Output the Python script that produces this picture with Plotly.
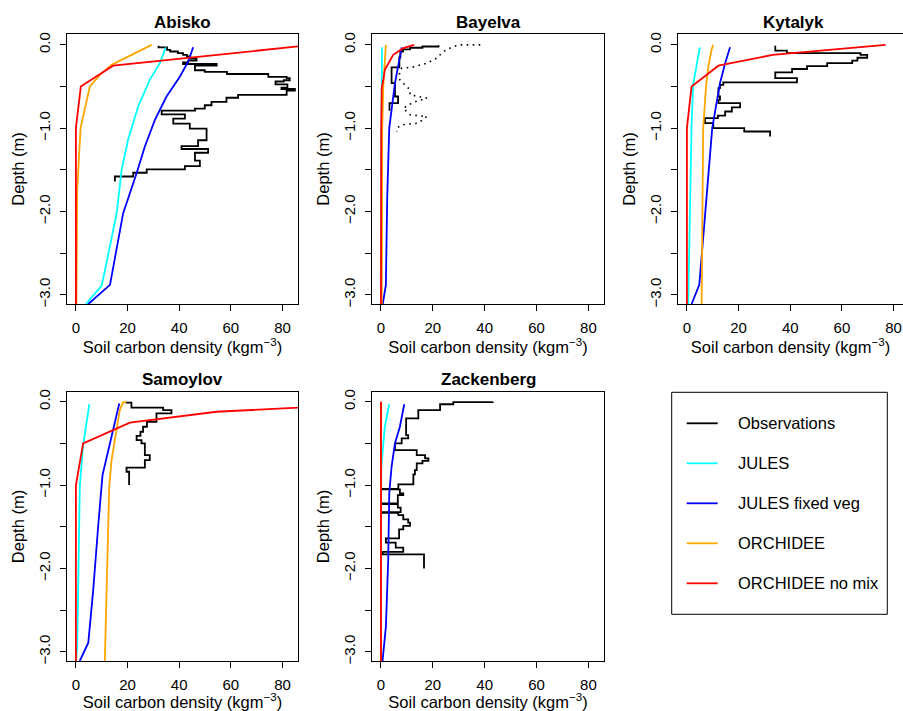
import plotly.graph_objects as go

W, H = 903, 711

sites = ["Abisko", "Bayelva", "Kytalyk", "Samoylov", "Zackenberg"]
series_names = ["Observations", "JULES", "JULES fixed veg", "ORCHIDEE", "ORCHIDEE no mix"]
series_colors = ["#000000", "#00FFFF", "#0000FF", "#FFA500", "#FF0000"]
x_ticks = [0, 20, 40, 60, 80]
x_tick_labels = ["0", "20", "40", "60", "80"]
y_ticks = [0.0, -1.0, -2.0, -3.0]
y_tick_labels = ["0.0", "\u22121.0", "\u22122.0", "\u22123.0"]
y_minor_step = 0.5
x_title = "Soil carbon density (kgm<sup>\u22123</sup>)"
y_title = "Depth (m)"

# ---------------- Observations (layer tops, layer values, profile bottom) -------------
abisko_obs_top = [-0.01, -0.03, -0.06, -0.08, -0.10, -0.12, -0.14, -0.165, -0.19, -0.21,
                  -0.23, -0.25, -0.305, -0.325, -0.35, -0.385, -0.40, -0.425, -0.44, -0.475,
                  -0.515, -0.53, -0.55, -0.60, -0.635, -0.685, -0.725, -0.765, -0.79, -0.835,
                  -0.885, -0.945, -1.005, -1.145, -1.215, -1.25, -1.295, -1.39, -1.455, -1.495,
                  -1.535, -1.58]
abisko_obs_soc = [32.0, 35.3, 36.5, 39.5, 41.5, 43.0, 44.3, 46.7, 43.5, 41.5,
                  54.5, 46.1, 49.9, 58.5, 74.5, 81.6, 82.8, 80.5, 77.3, 81.9,
                  79.6, 84.8, 81.6, 62.8, 58.3, 52.5, 49.9, 46.1, 33.2, 42.2,
                  37.7, 44.1, 50.6, 47.3, 40.9, 51.2, 46.1, 48.0, 42.2, 27.4,
                  22.2, 15.1]
abisko_obs_bottom = -1.64

bayelva_obs_top = [-0.005, -0.02, -0.035, -0.055, -0.08, -0.15, -0.27, -0.46, -0.62, -0.70]
bayelva_obs_soc = [22.2, 16.0, 11.2, 8.5, 7.5, 7.1, 4.1, 5.4, 6.6, 3.3]
bayelva_obs_bottom = -0.79

# second Bayelva profile (dotted)
bayelva_obs2_soc = [38.3, 30.5, 27.9, 24.7, 22.8, 22.1, 17.7, 11.9, 8.0, 7.1, 7.3, 11.2, 11.2,
                    17.7, 12.5, 8.6, 11.2, 17.7, 14.4, 8.0, 6.1, 6.1]
bayelva_obs2_depth = [0.0, 0.0, -0.02, -0.07, -0.12, -0.15, -0.22, -0.27, -0.28, -0.32, -0.42,
                      -0.54, -0.60, -0.64, -0.69, -0.76, -0.84, -0.86, -0.94, -0.96, -1.0, -1.04]

kytalyk_obs_top = [-0.01, -0.07, -0.10, -0.12, -0.155, -0.19, -0.22, -0.255, -0.29, -0.33,
                   -0.40, -0.45, -0.48, -0.52, -0.62, -0.66, -0.70, -0.75, -0.80, -0.85,
                   -0.88, -0.94, -1.00, -1.04]
kytalyk_obs_soc = [34.2, 38.7, 67.2, 69.8, 66.0, 64.0, 54.3, 46.5, 40.7, 34.2,
                   42.6, 14.1, 12.8, 12.2, 12.8, 12.2, 20.6, 17.4, 14.8, 12.0,
                   7.0, 10.2, 22.2, 32.2]
kytalyk_obs_bottom = -1.10

samoylov_obs_top = [0.0, -0.01, -0.07, -0.10, -0.14, -0.24, -0.30, -0.36, -0.41, -0.46,
                    -0.50, -0.64, -0.70, -0.79, -0.84]
samoylov_obs_soc = [19.6, 21.5, 33.8, 37.0, 31.2, 27.5, 26.0, 25.0, 23.5, 25.4,
                    26.7, 28.6, 26.7, 19.6, 20.6]
samoylov_obs_bottom = -1.00

zackenberg_obs_top = [0.0, -0.005, -0.03, -0.10, -0.20, -0.40, -0.44, -0.50, -0.58, -0.64,
                      -0.68, -0.71, -0.74, -0.82, -0.87, -0.99, -1.045, -1.052, -1.10, -1.12,
                      -1.22, -1.227, -1.27, -1.325, -1.332, -1.36, -1.41, -1.45, -1.49, -1.53,
                      -1.64, -1.69, -1.75, -1.80, -1.83]
zackenberg_obs_soc = [43.1, 27.9, 22.8, 14.4, 9.7, 10.5, 8.0, 5.4, 13.8, 17.0,
                      18.3, 16.0, 13.8, 13.1, 12.5, 6.7, 0.3, 7.3, 8.6, 6.5,
                      0.3, 6.5, 7.6, 0.3, 6.7, 8.6, 10.5, 11.2, 8.6, 7.0,
                      1.9, 5.7, 8.6, 0.6, 16.6]
zackenberg_obs_bottom = -2.00

# ---------------- JULES ----------------
abisko_jules_soc = [34.8, 32.5, 28.6, 24.1, 20.2, 17.7, 15.8, 10.0, 3.9]
abisko_jules_depth = [-0.03, -0.22, -0.42, -0.74, -1.14, -1.5, -2.02, -2.89, -3.11]
bayelva_jules_soc = [0.4, 0.2, 0.1]
bayelva_jules_depth = [-0.03, -1.0, -3.11]
kytalyk_jules_soc = [5.0, 3.8, 2.4, 1.8, 0.9, 0.5]
kytalyk_jules_depth = [-0.03, -0.26, -0.48, -0.98, -2.87, -3.11]
samoylov_jules_soc = [5.2, 2.8, 1.5, 0.5, 0.0]
samoylov_jules_depth = [-0.03, -0.52, -1.02, -2.94, -3.11]
zackenberg_jules_soc = [3.2, 1.5, 0.7, 0.1, 0.0]
zackenberg_jules_depth = [-0.03, -0.3, -0.58, -0.82, -3.11]

# ---------------- JULES fixed veg ----------------
abisko_julesfv_soc = [45.4, 43.5, 40.3, 35.1, 30.6, 26.7, 23.5, 18.3, 13.2, 4.8]
abisko_julesfv_depth = [-0.03, -0.2, -0.38, -0.62, -0.9, -1.22, -1.54, -2.02, -2.88, -3.11]
bayelva_julesfv_soc = [8.0, 5.4, 3.2, 2.4, 1.9, 0.7]
bayelva_julesfv_depth = [-0.03, -0.46, -1.0, -1.86, -2.88, -3.11]
kytalyk_julesfv_soc = [16.7, 14.8, 12.8, 10.9, 9.8, 4.8, 1.8]
kytalyk_julesfv_depth = [-0.03, -0.22, -0.46, -0.78, -1.0, -2.88, -3.11]
samoylov_julesfv_soc = [16.8, 14.4, 12.1, 10.3, 8.6, 6.7, 4.8, 1.5]
samoylov_julesfv_depth = [-0.02, -0.34, -0.62, -0.88, -1.5, -2.26, -2.89, -3.11]
zackenberg_julesfv_soc = [9.0, 7.3, 5.4, 4.1, 3.2, 2.8, 1.9, 1.2, 0.6]
zackenberg_julesfv_depth = [-0.03, -0.3, -0.5, -0.78, -1.1, -1.9, -2.7, -2.98, -3.11]

# ---------------- ORCHIDEE ----------------
abisko_orc_soc = [29.3, 24.8, 19.6, 13.8, 9.3, 5.4, 1.8, 0.5, 0.2]
abisko_orc_depth = [0.0, -0.07, -0.15, -0.24, -0.36, -0.5, -1.0, -1.74, -3.11]
bayelva_orc_soc = [1.9, 1.5, 0.9, 0.5, 0.3]
bayelva_orc_depth = [0.0, -0.25, -0.5, -1.0, -3.11]
kytalyk_orc_soc = [10.2, 9.6, 8.3, 7.4, 6.3, 5.7]
kytalyk_orc_depth = [0.0, -0.05, -0.26, -0.5, -1.0, -3.11]
samoylov_orc_soc = [19.5, 18.2, 17.0, 15.1, 13.8, 12.9, 11.2]
samoylov_orc_depth = [0.0, -0.01, -0.1, -0.44, -0.7, -1.02, -3.11]
zackenberg_orc_soc = [0.1, 0.1, 0.0]
zackenberg_orc_depth = [0.0, -1.0, -3.11]

# ---------------- ORCHIDEE no mix ----------------
abisko_orcnm_soc = [92.0, 14.4, 1.9, 0.0, 0.0]
abisko_orcnm_depth = [0.0, -0.25, -0.5, -1.0, -3.11]
bayelva_orcnm_soc = [12.8, 8.6, 4.7, 2.8, 1.5, 0.9, 0.3, 0.1, 0.0]
bayelva_orcnm_depth = [0.0, -0.04, -0.12, -0.22, -0.3, -0.42, -0.52, -1.0, -3.11]
kytalyk_orcnm_soc = [76.9, 33.2, 12.2, 1.8, 0.0, 0.0]
kytalyk_orcnm_depth = [0.0, -0.12, -0.25, -0.5, -1.0, -3.11]
samoylov_orcnm_soc = [130.0, 54.5, 20.9, 2.8, 0.0, 0.0]
samoylov_orcnm_depth = [0.0, -0.12, -0.25, -0.5, -1.0, -3.11]
zackenberg_orcnm_soc = [0.0, 0.0]
zackenberg_orcnm_depth = [0.0, -3.11]

obs_layers = {
    "Abisko": (abisko_obs_top, abisko_obs_soc, abisko_obs_bottom),
    "Bayelva": (bayelva_obs_top, bayelva_obs_soc, bayelva_obs_bottom),
    "Kytalyk": (kytalyk_obs_top, kytalyk_obs_soc, kytalyk_obs_bottom),
    "Samoylov": (samoylov_obs_top, samoylov_obs_soc, samoylov_obs_bottom),
    "Zackenberg": (zackenberg_obs_top, zackenberg_obs_soc, zackenberg_obs_bottom),
}
model_series = {
    "Abisko": [(abisko_jules_soc, abisko_jules_depth), (abisko_julesfv_soc, abisko_julesfv_depth),
               (abisko_orc_soc, abisko_orc_depth), (abisko_orcnm_soc, abisko_orcnm_depth)],
    "Bayelva": [(bayelva_jules_soc, bayelva_jules_depth), (bayelva_julesfv_soc, bayelva_julesfv_depth),
                (bayelva_orc_soc, bayelva_orc_depth), (bayelva_orcnm_soc, bayelva_orcnm_depth)],
    "Kytalyk": [(kytalyk_jules_soc, kytalyk_jules_depth), (kytalyk_julesfv_soc, kytalyk_julesfv_depth),
                (kytalyk_orc_soc, kytalyk_orc_depth), (kytalyk_orcnm_soc, kytalyk_orcnm_depth)],
    "Samoylov": [(samoylov_jules_soc, samoylov_jules_depth), (samoylov_julesfv_soc, samoylov_julesfv_depth),
                 (samoylov_orc_soc, samoylov_orc_depth), (samoylov_orcnm_soc, samoylov_orcnm_depth)],
    "Zackenberg": [(zackenberg_jules_soc, zackenberg_jules_depth), (zackenberg_julesfv_soc, zackenberg_julesfv_depth),
                   (zackenberg_orc_soc, zackenberg_orc_depth), (zackenberg_orcnm_soc, zackenberg_orcnm_depth)],
}

# ---------------- layout geometry (pixels) ----------------
boxes = {
    "Abisko": (67, 298, 34, 304),
    "Bayelva": (372, 604, 34, 304),
    "Kytalyk": (678, 903, 34, 304),
    "Samoylov": (67, 298, 392, 661),
    "Zackenberg": (372, 604, 392, 661),
}
x_ranges = {"Abisko": [-3.45, 86.0], "Bayelva": [-3.45, 86.0], "Kytalyk": [-3.45, 83.65],
            "Samoylov": [-3.45, 86.0], "Zackenberg": [-3.45, 86.0]}
y_range_top = [-3.11, 0.13]
y_range_bottom = [-3.11, 0.117]

FONT = "Liberation Sans, Arial, Helvetica, sans-serif"
LW = 1.8


def px(x):
    return x / W


def py(y):
    return 1 - y / H


fig = go.Figure()
layout = dict(width=W, height=H, margin=dict(l=0, r=0, t=0, b=0),
              paper_bgcolor="white", plot_bgcolor="white", showlegend=False,
              font=dict(family=FONT, color="black"))
annotations = []
shapes = []

for i, site in enumerate(sites, start=1):
    xa = "x" if i == 1 else f"x{i}"
    ya = "y" if i == 1 else f"y{i}"
    x0, x1, y0, y1 = boxes[site]
    top_row = i <= 3

    # observations
    tops, vals, bottom = obs_layers[site]
    fig.add_trace(go.Scatter(x=vals + [vals[-1]], y=tops + [bottom], mode="lines",
                             line=dict(color=series_colors[0], width=LW, shape="vh"),
                             name=series_names[0], xaxis=xa, yaxis=ya))
    if site == "Bayelva":
        fig.add_trace(go.Scatter(x=bayelva_obs2_soc, y=bayelva_obs2_depth, mode="lines",
                                 line=dict(color="black", width=1.6, dash="1.6px,4.4px"),
                                 name=series_names[0], xaxis=xa, yaxis=ya))
    for k, (soc, dep) in enumerate(model_series[site], start=1):
        fig.add_trace(go.Scatter(x=soc, y=dep, mode="lines",
                                 line=dict(color=series_colors[k], width=LW),
                                 name=series_names[k], xaxis=xa, yaxis=ya))

    axis_common = dict(showline=True, linecolor="black", linewidth=1, ticks="outside",
                       ticklen=6, tickwidth=1, tickcolor="black", showgrid=False,
                       zeroline=False, tickfont=dict(family=FONT, size=15, color="black"),
                       fixedrange=True, automargin=False)
    layout["xaxis" if i == 1 else f"xaxis{i}"] = dict(
        axis_common, domain=[px(x0), px(x1)], range=x_ranges[site], anchor=ya,
        tickmode="array", tickvals=x_ticks, ticktext=x_tick_labels, mirror=True,
        ticklabelstandoff=4,
        title=dict(text=x_title, standoff=6, font=dict(family=FONT, size=16.5, color="black")))
    layout["yaxis" if i == 1 else f"yaxis{i}"] = dict(
        axis_common, domain=[py(y1), py(y0)],
        range=y_range_top if top_row else y_range_bottom, anchor=xa,
        tickmode="array", tickvals=y_ticks, ticktext=y_tick_labels, tickangle=-90,
        minor=dict(ticks="outside", ticklen=6, tickwidth=1, tickcolor="black",
                   tick0=0, dtick=y_minor_step, showgrid=False),
        mirror=(site != "Kytalyk"), ticklabelstandoff=4,
        title=dict(text=y_title, standoff=7, font=dict(family=FONT, size=16.5, color="black")))

    cx = (x0 + x1) / 2 if site != "Kytalyk" else 793.5
    annotations.append(dict(text=f"<b>{site}</b>", x=px(cx), y=py(y0 - 12), xref="paper", yref="paper",
                            showarrow=False, xanchor="center", yanchor="middle",
                            font=dict(family=FONT, size=17, color="black")))

# legend panel
lx0, lx1, ly0, ly1 = 671.7, 887.3, 392.3, 614.3
shapes.append(dict(type="rect", xref="paper", yref="paper", x0=px(lx0), x1=px(lx1),
                   y0=py(ly1), y1=py(ly0), line=dict(color="black", width=1)))
for k, name in enumerate(series_names):
    yy = 423.3 + 40 * k
    shapes.append(dict(type="line", xref="paper", yref="paper", x0=px(686.7), x1=px(717.7),
                       y0=py(yy), y1=py(yy), line=dict(color=series_colors[k], width=LW)))
    annotations.append(dict(text=name, x=px(735.7), y=py(yy), xref="paper", yref="paper",
                            showarrow=False, xanchor="left", yanchor="middle",
                            font=dict(family=FONT, size=16.5, color="black")))

layout["annotations"] = annotations
layout["shapes"] = shapes
fig.update_layout(**layout)
fig.write_html("out.html")
